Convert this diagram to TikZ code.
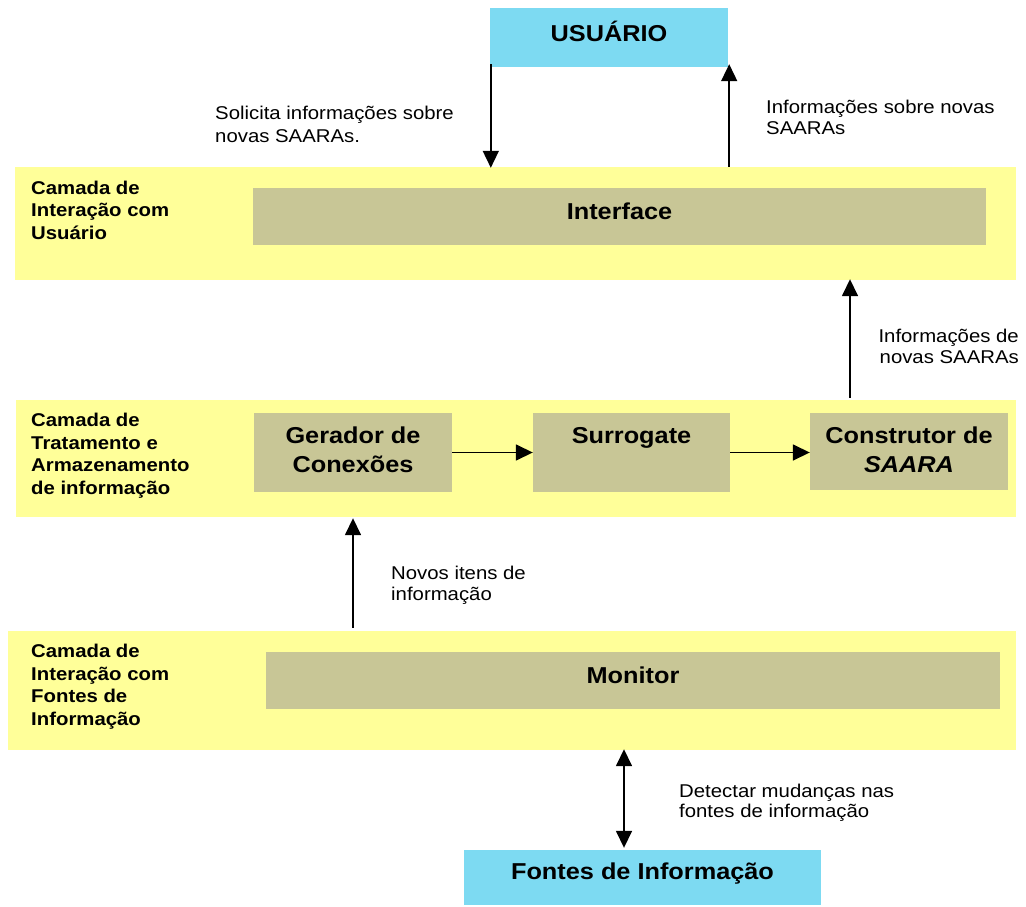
\documentclass[tikz,border=0pt]{standalone}
\usepackage{fontspec}
\setmainfont{Liberation Sans}[FakeStretch=1.1]
\usetikzlibrary{arrows.meta,calc}
\definecolor{layeryellow}{RGB}{255,255,153}
\definecolor{boxgray}{RGB}{200,198,150}
\definecolor{boxcyan}{RGB}{125,218,242}
\tikzset{
  >={Triangle[width=16pt,length=17pt]},
  layer/.style={fill=layeryellow, draw=none, inner sep=0pt},
  module/.style={fill=boxgray, draw=none, inner sep=0pt},
  modtext/.style={inner sep=0pt, align=center, font=\fontsize{23}{29}\selectfont\bfseries},
  extbox/.style={fill=boxcyan, draw=none, inner sep=0pt},
  layerlabel/.style={anchor=north west, inner sep=0pt, align=left, font=\fontsize{18.5}{22.5}\selectfont\bfseries},
  note/.style={inner sep=0pt, font=\fontsize{18.5}{21}\selectfont},
  arr/.style={line width=1.6pt, ->},
  darr/.style={line width=1.6pt, <->}
}
\begin{document}
\begin{tikzpicture}[x=1pt,y=-1pt]
\useasboundingbox (0,0) rectangle (1026,907);
% layers
\node[layer, minimum width=1001pt, minimum height=113pt] (layer1) at (515.5,223.5) {};
\node[layer, minimum width=1000pt, minimum height=117pt] (layer2) at (516,458.5) {};
\node[layer, minimum width=1008pt, minimum height=119pt] (layer3) at (512,690.5) {};
% external boxes
\node[extbox, minimum width=238pt, minimum height=59pt,
  label={[modtext, yshift=6pt]center:USUÁRIO}] (usuario) at (609,37.5) {};
\node[extbox, minimum width=357pt, minimum height=55pt,
  label={[modtext, yshift=4pt]center:Fontes de Informação}] (fontes) at (642.5,877.5) {};
% modules
\node[module, minimum width=733pt, minimum height=57pt,
  label={[modtext, yshift=5pt]center:Interface}] (interface) at (619.5,216.5) {};
\node[module, minimum width=198pt, minimum height=79pt,
  label={[modtext, yshift=3pt]center:{Gerador de\\Conexões}}] (gerador) at (353,452.5) {};
\node[module, minimum width=197pt, minimum height=79pt,
  label={[modtext, yshift=15pt]center:Surrogate}] (surrogate) at (631.5,452.5) {};
\node[module, minimum width=198pt, minimum height=77pt,
  label={[modtext, yshift=2pt]center:{Construtor de\\\textit{SAARA}}}] (construtor) at (909,451.5) {};
\node[module, minimum width=734pt, minimum height=57pt,
  label={[modtext, yshift=5pt]center:Monitor}] (monitor) at (633,680.5) {};
% layer labels
\node[layerlabel] (l1) at (31,180.5) {Camada de\\Interação com\\Usuário};
\node[layerlabel] (l2) at (31,413) {Camada de\\Tratamento e\\Armazenamento\\de informação};
\node[layerlabel] (l3) at (31,644) {Camada de\\Interação com\\Fontes de\\Informação};
% helper coordinates
\coordinate (xa) at (850,0);
\coordinate (xb) at (624,0);
% connectors
\draw[arr] ([xshift=1pt,yshift=3pt]usuario.south west) -- ([xshift=1pt,yshift=-1pt]usuario.south west |- layer1.north);
\draw[arr] ([xshift=1pt]usuario.south east |- layer1.north) -- ([xshift=1pt,yshift=3pt]usuario.south east);
\draw[arr] ([yshift=2pt]layer2.north -| xa) -- ([yshift=1pt]layer1.south -| xa);
\draw[arr] (gerador.east) -- (gerador.east -| surrogate.west);
\draw[arr] (surrogate.east) -- (surrogate.east -| construtor.west);
\draw[arr] ([yshift=3pt]layer3.north -| gerador) -- ([yshift=-1pt]layer2.south -| gerador);
\draw[darr] ([yshift=1pt]layer3.south -| xb) -- ([yshift=2pt]fontes.north -| xb);
% notes
\node[note, anchor=north west, align=left, font=\fontsize{18.5}{23}\selectfont] (n1) at (215,106) {Solicita informações sobre\\novas SAARAs.};
\node[note, anchor=north west, align=left, font=\fontsize{18.5}{21.5}\selectfont] (n2) at (766,99.5) {Informações sobre novas\\SAARAs};
\node[note, anchor=north east, align=right] (n3) at (1019,328.5) {Informações de\\novas SAARAs};
\node[note, anchor=north west, align=left, font=\fontsize{18.5}{20.5}\selectfont] (n4) at (391,566) {Novos itens de\\informação};
\node[note, anchor=north west, align=left, font=\fontsize{18.5}{20.5}\selectfont] (n5) at (679,783.5) {Detectar mudanças nas\\fontes de informação};
\end{tikzpicture}
\end{document}
